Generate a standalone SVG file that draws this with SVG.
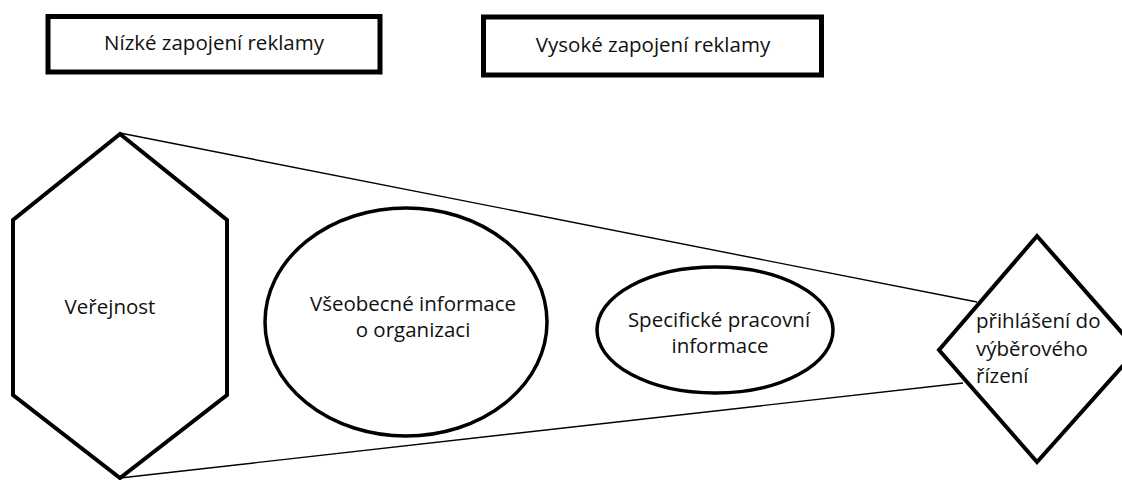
<svg xmlns="http://www.w3.org/2000/svg" width="1122" height="480" viewBox="0 0 1122 480">
<style>
.t{font-family:"Open Sans","Liberation Sans",sans-serif;font-size:20.5px;fill:#111}
.c{text-anchor:middle}
.box{fill:#fff;stroke:#000;stroke-width:5}
.shape{fill:#fff;stroke:#000;stroke-width:4;stroke-linejoin:miter}
.ell{fill:#fff;stroke:#000;stroke-width:3.5}
.conn{stroke:#000;stroke-width:1.4;fill:none}
</style>
<rect width="1122" height="480" fill="#fff"/>
<g id="connectors">
<line class="conn" x1="120" y1="133" x2="977" y2="302"/>
<line class="conn" x1="120" y1="478" x2="963" y2="383"/>
</g>
<g id="low">
<rect class="box" x="48" y="16.5" width="332" height="55.5"/>
<text class="t c" x="214" y="50">Nízké zapojení reklamy</text>
</g>
<g id="high">
<rect class="box" x="483.5" y="17" width="338" height="58"/>
<text class="t c" x="653" y="52">Vysoké zapojení reklamy</text>
</g>
<g id="verejnost">
<polygon class="shape" points="120,134 227,220 227,395 120,478 13,395 13,220"/>
<text class="t c" x="110" y="314">Veřejnost</text>
</g>
<g id="vseobecne">
<ellipse class="ell" cx="406" cy="322" rx="141" ry="114"/>
<text class="t c" x="413" y="311">Všeobecné informace</text>
<text class="t c" x="413" y="337">o organizaci</text>
</g>
<g id="specificke">
<ellipse class="ell" cx="715" cy="330" rx="118" ry="63"/>
<text class="t c" x="719" y="327">Specifické pracovní</text>
<text class="t c" x="720" y="353">informace</text>
</g>
<g id="prihlaseni">
<polygon class="shape" points="1037,236 1137,350 1037,462 939,350"/>
<text class="t" x="976" y="328">přihlášení do</text>
<text class="t" x="976" y="356">výběrového</text>
<text class="t" x="976" y="383">řízení</text>
</g>
</svg>
